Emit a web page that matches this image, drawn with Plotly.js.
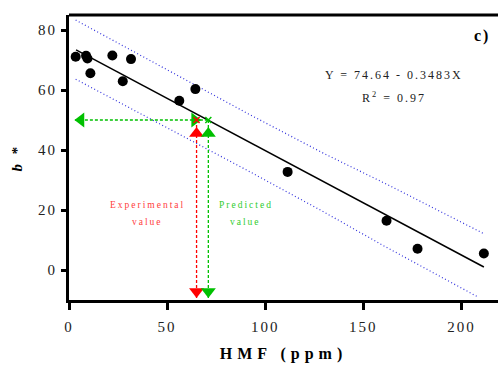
<!DOCTYPE html>
<html><head><meta charset="utf-8">
<script src="https://cdn.plot.ly/plotly-3.0.1.min.js"></script>
<style>
body{margin:0;padding:0;background:#fff}
#chart{width:498px;height:370px}
.xtick text,.ytick text{letter-spacing:2px}
.annotation-text{letter-spacing:2px}
.g-xtitle text{letter-spacing:5px}
.g-ytitle text{letter-spacing:3px}
</style></head><body>
<div id="chart"></div>
<script>
// measured data
const hmf = [3.4, 8.7, 9.4, 10.9, 22.1, 27.4, 31.6, 56.2, 64.4, 111.4, 161.8, 177.6, 211.4];
const bStar = [71.1, 71.4, 70.5, 65.6, 71.5, 62.9, 70.3, 56.4, 60.3, 32.7, 16.4, 7.1, 5.5];
// regression line Y = 74.64 - 0.3483X (end points)
const fitX = [3.6, 211.4];
const fitY = [73.4, 1.0];
// prediction bands
const upperX = [3.4, 50, 91.2, 130, 162.5, 211.4];
const upperY = [83.3, 66.6, 52.1, 38.8, 28.4, 12.1];
const lowerX = [3.4, 50, 92, 130, 160, 207.8];
const lowerY = [63.6, 47.4, 32.8, 19.3, 8.2, -8.8];
// arrows
const predB = 50;
const expX = 65;
const predX = 71;
const arrowBottom = -10;
const arrowLeft = 3;
const triLeft = [6.1, 50];
const triRight = [64, 50];
const triUpY = 45.5;
const triDownY = -7.2;

const red = '#ff0000', green = '#00c000', blue = '#3333dd';
const serif = 'Liberation Serif, Times New Roman, serif';

const traces = [
  {x: upperX, y: upperY, mode:'lines', line:{color:blue, width:1.2, dash:'1px,2.5px'}, hoverinfo:'skip'},
  {x: lowerX, y: lowerY, mode:'lines', line:{color:blue, width:1.2, dash:'1px,2.5px'}, hoverinfo:'skip'},
  {x: fitX, y: fitY, mode:'lines', line:{color:'#000', width:1.5}},
  {x: [arrowLeft, predX], y:[predB, predB], mode:'lines', line:{color:green, width:1.3, dash:'3px,2px'}},
  {x: [expX, expX], y:[predB, arrowBottom], mode:'lines', line:{color:red, width:1.3, dash:'3px,2px'}},
  {x: [predX, predX], y:[predB, arrowBottom], mode:'lines', line:{color:green, width:1.3, dash:'3px,2px'}},
  {x: [triLeft[0]], y:[triLeft[1]], mode:'markers', marker:{symbol:'triangle-left', size:13, color:green}},
  {x: [triRight[0]], y:[triRight[1]], mode:'markers', marker:{symbol:'triangle-right', size:13, color:green}},
  {x: [expX], y:[triUpY], mode:'markers', marker:{symbol:'triangle-up', size:13, color:red}},
  {x: [predX], y:[triUpY], mode:'markers', marker:{symbol:'triangle-up', size:13, color:green}},
  {x: [expX], y:[triDownY], mode:'markers', marker:{symbol:'triangle-down', size:13, color:red}},
  {x: [predX], y:[triDownY], mode:'markers', marker:{symbol:'triangle-down', size:13, color:green}},
  {x: [expX], y:[predB], mode:'markers', marker:{symbol:'x-thin', size:6, line:{color:red, width:1.5}}},
  {x: [predX], y:[predB], mode:'markers', marker:{symbol:'x-thin', size:6, line:{color:green, width:1.5}}},
  {x: hmf, y: bStar, mode:'markers', marker:{color:'#000', size:10}}
];

const layout = {
  width:498, height:370,
  margin:{l:69, r:0, t:15, b:70},
  showlegend:false,
  paper_bgcolor:'#fff', plot_bgcolor:'#fff',
  font:{family:serif, color:'#222'},
  xaxis:{
    range:[0, 218.6], tickvals:[0,50,100,150,200], ticks:'outside', ticklen:7, tickwidth:3, tickcolor:'#000',
    showline:true, linewidth:3, linecolor:'#000', mirror:false, showgrid:false, zeroline:false,
    tickfont:{family:serif, size:15, color:'#222'}, ticklabelstandoff:4,
    title:{text:'<b>HMF (ppm)</b>', font:{family:serif, size:16, color:'#000'}, standoff:14}
  },
  yaxis:{
    range:[-10, 85], tickvals:[0,20,40,60,80], ticks:'outside', ticklen:5, tickwidth:3, tickcolor:'#000',
    showline:true, linewidth:3, linecolor:'#000', showgrid:false, zeroline:false,
    tickfont:{family:serif, size:15, color:'#222'}, ticklabelstandoff:1,
    title:{text:'<b><i>b</i> *</b>', font:{family:serif, size:15, color:'#000'}, standoff:12}
  },
  shapes:[
    {type:'line', xref:'paper', yref:'paper', x0:0, x1:1, y0:1, y1:1, line:{color:'#000', width:3}}
  ],
  annotations:[
    {x:40, y:21.8, text:'Experimental', showarrow:false, font:{family:serif, size:9.5, color:'#ff3c3c'}},
    {x:40, y:16, text:'value', showarrow:false, font:{family:serif, size:9.5, color:'#ff3c3c'}},
    {x:90, y:21.8, text:'Predicted', showarrow:false, font:{family:serif, size:9.5, color:'#2ecc2e'}},
    {x:90, y:16, text:'value', showarrow:false, font:{family:serif, size:9.5, color:'#2ecc2e'}},
    {x:165.8, y:65.1, text:'Y = 74.64 - 0.3483X', showarrow:false, font:{family:serif, size:12, color:'#222'}},
    {x:165.8, y:57.6, text:'R<sup>2</sup> = 0.97', showarrow:false, font:{family:serif, size:12, color:'#222'}},
    {x:210.4, y:78.1, text:'<b>c)</b>', showarrow:false, font:{family:serif, size:16, color:'#000'}}
  ]
};
Plotly.newPlot('chart', traces, layout, {displayModeBar:false, staticPlot:true});
</script></body></html>
